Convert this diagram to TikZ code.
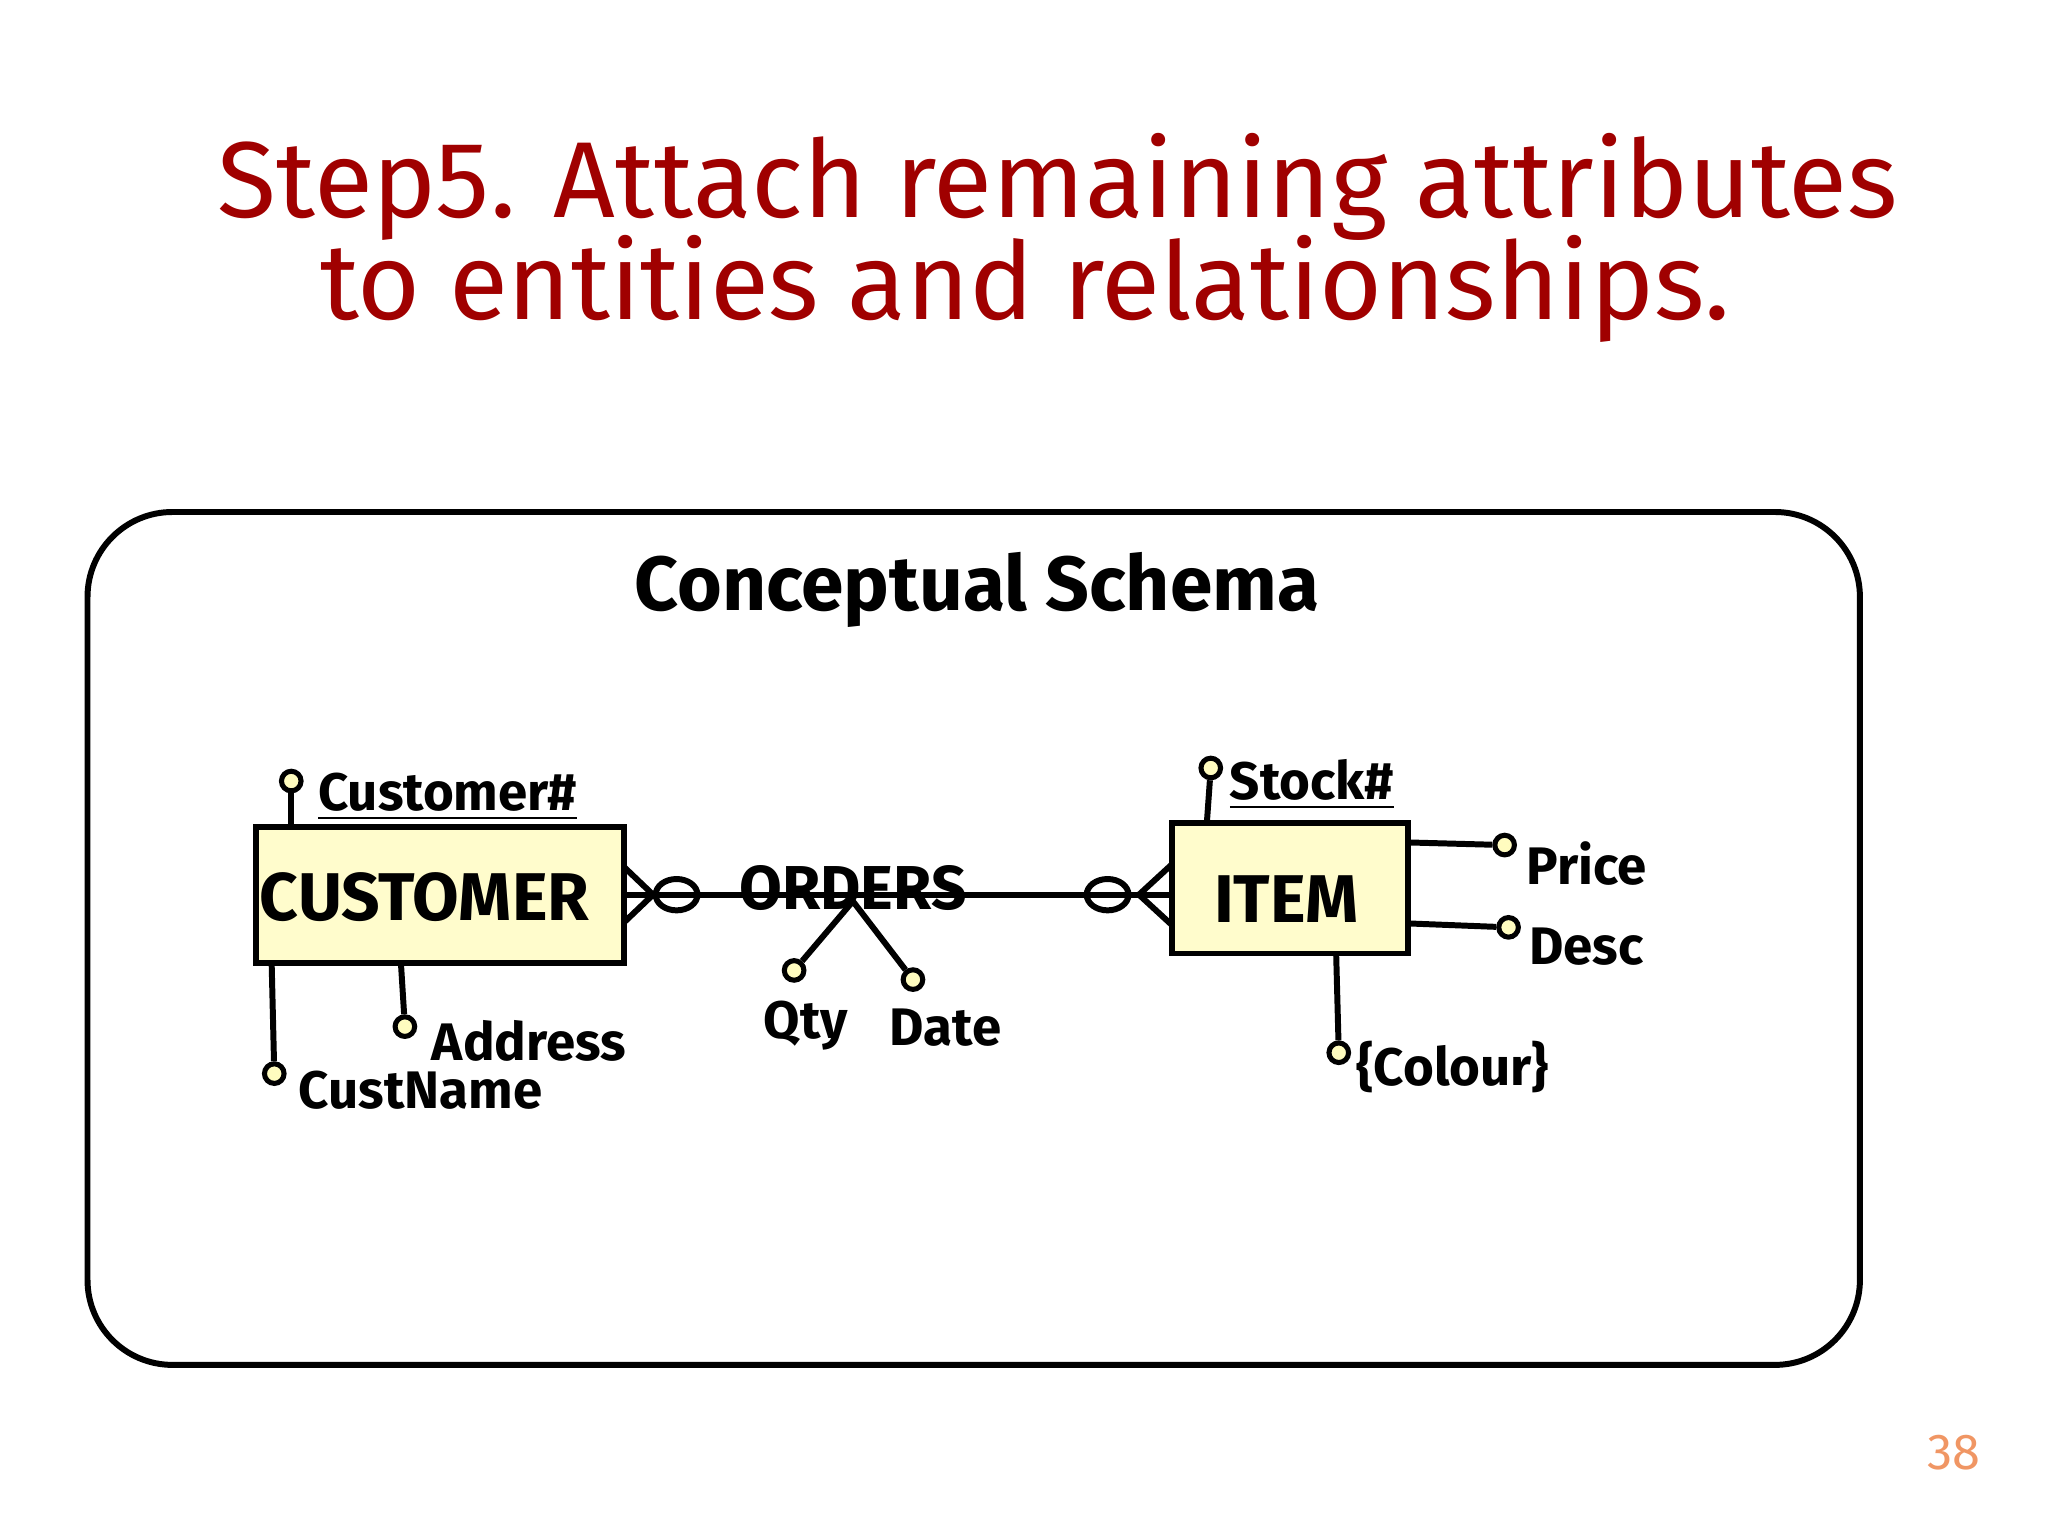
\documentclass[tikz,border=0pt]{standalone}
\usepackage{fontspec}
\setmainfont{Fira Sans}
\begin{document}
\begin{tikzpicture}[x=0.01cm,y=-0.01cm,
  ent/.style={draw,line width=1.3pt,fill=yellow!20},
  lbl/.style={font=\fontsize{11.5}{13}\selectfont\bfseries,inner sep=0pt},
  attr/.style={circle,draw,line width=1.1pt,fill=yellow!25,minimum size=0.15cm,inner sep=0pt},
  ln/.style={line width=1.3pt}]
\useasboundingbox (0,0) rectangle (1568,1176);
\definecolor{tred}{RGB}{160,0,0}
\node[text=tred,font=\fontsize{23.5}{26}\selectfont] (t1) at (810,143) {Step5. Attach remaining attributes};
\node[text=tred,font=\fontsize{23.5}{26}\selectfont] (t2) at (785,221) {to entities and relationships.};
\draw[line width=1.3pt,rounded corners=0.65cm] (67,392) rectangle (1424,1045);
\node[font=\fontsize{16.7}{19}\selectfont\bfseries] (cs) at (748,452) {Conceptual Schema};
\node[ent,minimum width=2.82cm,minimum height=1.04cm] (cust) at (337,685) {};
\node[lbl,font=\fontsize{14.7}{17}\selectfont\bfseries] at (325,687) {CUSTOMER};
\node[ent,minimum width=1.81cm,minimum height=1.0cm] (item) at (987.5,680) {};
\node[lbl,font=\fontsize{14.7}{17}\selectfont\bfseries] at (985,688) {ITEM};
% relationship
\coordinate (cf1) at (500,685);
\coordinate (cf2) at (872,685);
\draw[ln] (478,685) -- (897,685);
\draw[ln] (478,664) -- (cf1) -- (478,706);
\draw[ln] (897,662) -- (cf2) -- (897,708);
\draw[ln] (518,685) ellipse (16 and 12);
\draw[ln] (848,685) ellipse (16 and 12);
\node[lbl,font=\fontsize{13.5}{15}\selectfont\bfseries] (ord) at (653,680) {ORDERS};
\coordinate (rj) at (653,690);
\node[attr] (qc) at (608,743) {};
\node[attr] (dc) at (699,750) {};
\draw[ln] (rj) -- (qc); \draw[ln] (rj) -- (dc);
\node[lbl] at (617,785) {Qty};
\node[lbl] at (724,787) {Date};
% customer attrs
\node[attr] (c1) at (223,598) {};
\draw[ln] (c1) -- (223,633);
\node[lbl,anchor=west] at (243,610) {\underline{Customer\#}};
\node[attr] (c2) at (210,822) {};
\draw[ln] (208,738) -- (c2);
\node[lbl,anchor=west] at (228,835) {CustName};
\node[attr] (c3) at (310,786) {};
\draw[ln] (307,738) -- (c3);
\node[lbl,anchor=west] at (330,797) {Address};
% item attrs
\node[attr] (i1) at (927,588) {};
\draw[ln] (i1) -- (924,630);
\node[lbl,anchor=west] at (941,601) {\underline{Stock\#}};
\node[attr] (i2) at (1152,647) {};
\draw[ln] (1078,645) -- (i2);
\node[lbl,anchor=west] at (1168,661) {Price};
\node[attr] (i3) at (1155,710) {};
\draw[ln] (1078,707) -- (i3);
\node[lbl,anchor=west] at (1170,725) {Desc};
\node[attr] (i4) at (1025,806) {};
\draw[ln] (1023,730) -- (i4);
\node[lbl,anchor=west] at (1038,817) {\{Colour\}};
\node[text={rgb,255:red,240;green,150;blue,100},font=\fontsize{11}{13}\selectfont] (pg) at (1496,1112) {38};
\end{tikzpicture}
\end{document}
